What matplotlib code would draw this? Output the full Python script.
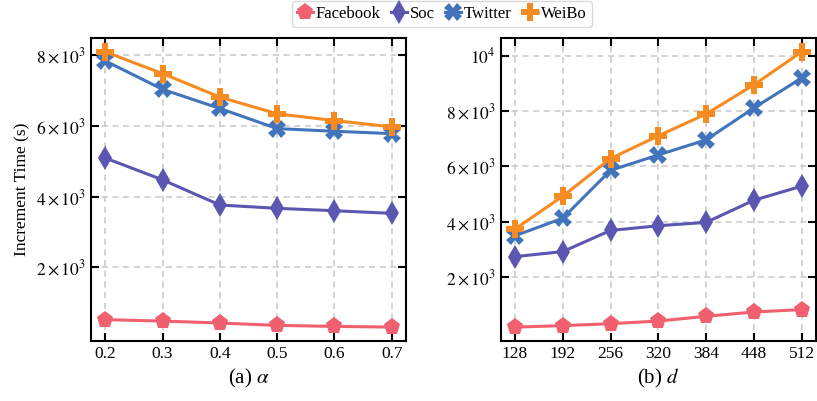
import matplotlib
matplotlib.use("Agg")
import matplotlib.pyplot as plt
from matplotlib.ticker import FuncFormatter

plt.rcParams['font.family'] = ['Liberation Serif', 'DejaVu Serif']
plt.rcParams['mathtext.fontset'] = 'stix'

# ---- data ----
alpha = [0.2, 0.3, 0.4, 0.5, 0.6, 0.7]
dims = [128, 192, 256, 320, 384, 448, 512]

names = ['Facebook', 'Soc', 'Twitter', 'WeiBo']
colors = ['#f0606e', '#5b56b0', '#4174bb', '#f68b22']
markers = ['p', 'd', 'X', 'P']

alpha_facebook = [521, 480, 425, 358, 330, 310]
alpha_soc = [5093, 4475, 3764, 3670, 3602, 3528]
alpha_twitter = [7841, 7036, 6495, 5926, 5850, 5784]
alpha_weibo = [8097, 7482, 6817, 6344, 6154, 5974]

d_facebook = [193, 244, 317, 411, 582, 738, 825]
d_soc = [2738, 2920, 3683, 3854, 3975, 4775, 5283]
d_twitter = [3491, 4125, 5854, 6411, 6956, 8108, 9188]
d_weibo = [3734, 4920, 6280, 7102, 7890, 8945, 10134]

alpha_yticks = [2000, 4000, 6000, 8000]
d_yticks = [2000, 4000, 6000, 8000, 10000]


def sci_fmt(v, pos):
    k = int(round(v / 1000))
    if k == 10:
        return r'$10^{4}$'
    return r'$%d\times10^{3}$' % k


fig = plt.figure(figsize=(8.17, 4.01), dpi=100)
ax1 = fig.add_axes([0.1114, 0.150, 0.3856, 0.755])
ax2 = fig.add_axes([0.6128, 0.150, 0.3860, 0.755])

panels = [
    (ax1, alpha, [alpha_facebook, alpha_soc, alpha_twitter, alpha_weibo], alpha_yticks, r'(a) $\alpha$'),
    (ax2, dims, [d_facebook, d_soc, d_twitter, d_weibo], d_yticks, r'(b) $d$'),
]

for ax, xs, series, yt, lab in panels:
    for ys, name, c, m in zip(series, names, colors, markers):
        ax.plot(xs, ys, color=c, marker=m, markersize=12.5, linewidth=2.2,
                markeredgewidth=0, label=name)
    ax.set_xticks(xs)
    ax.set_yticks(yt)
    ax.yaxis.set_major_formatter(FuncFormatter(sci_fmt))
    ax.grid(True, linestyle=(0, (4, 3)), color='#c8c8c8', linewidth=1.1)
    ax.tick_params(direction='in', length=6, width=1.5, top=True, right=True,
                   labelsize=12.5)
    ax.set_xlabel(lab, fontsize=15)
    for s in ax.spines.values():
        s.set_linewidth(1.5)

ax1.set_xticklabels(['%.1f' % a for a in alpha])
ax1.set_ylabel('Increment Time (s)', fontsize=12.5)

h, l = ax1.get_legend_handles_labels()
fig.legend(h, l, loc='upper center', bbox_to_anchor=(0.5405, 1.005), ncol=4,
           fontsize=12, frameon=True, edgecolor='#d0d0d0', fancybox=True,
           handlelength=1.0, handletextpad=0.15, columnspacing=0.6,
           borderpad=0.3, borderaxespad=0.2)

fig.savefig('out.png', dpi=100)
